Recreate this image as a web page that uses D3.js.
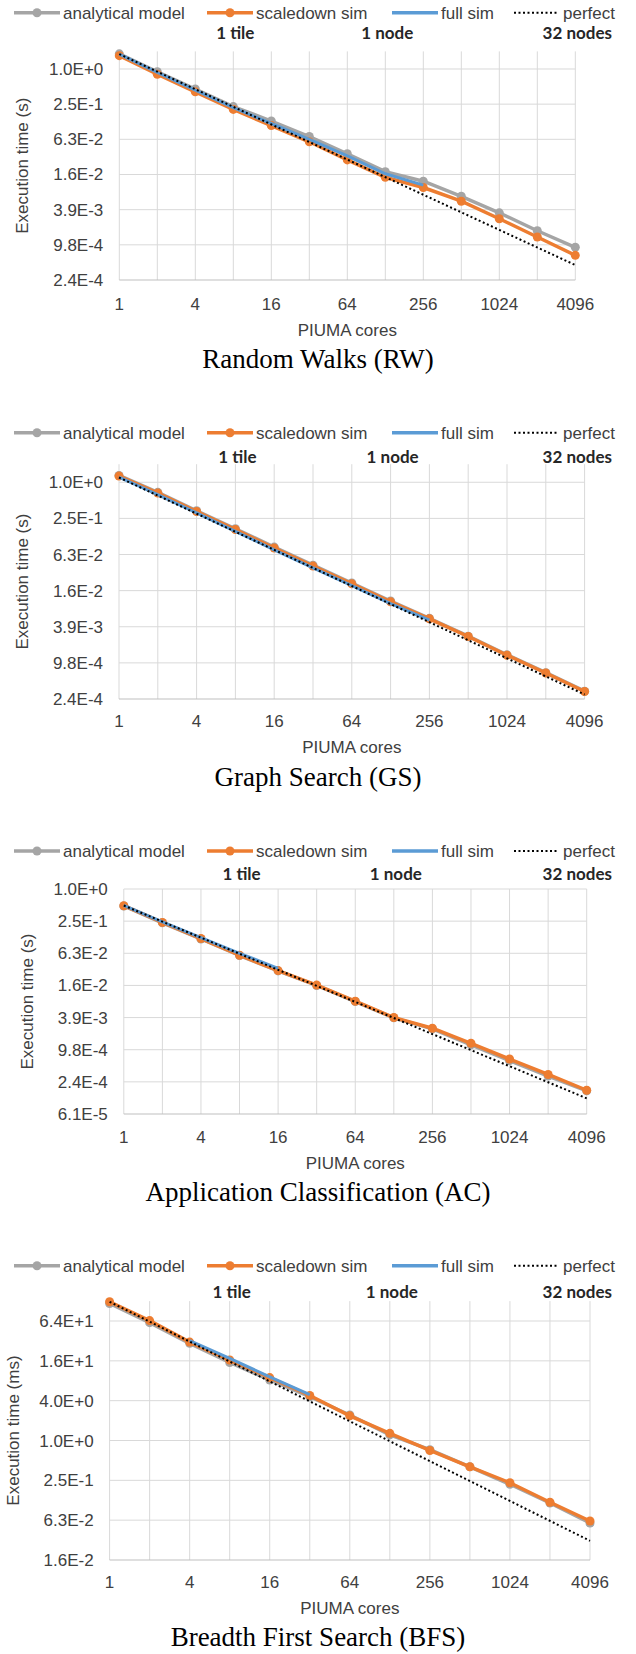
<!DOCTYPE html>
<html>
<head>
<meta charset="utf-8">
<script src="https://cdn.jsdelivr.net/npm/d3@7"></script>
<style>
  body { margin: 0; background: #fff; }
  svg { display: block; }
  .tick-label, .legend-label, .axis-title { font-family: "Liberation Sans", Arial, sans-serif; font-size: 17px; fill: #404040; }
  .legend-label { fill: #404040; }
  .anno { font-family: Lato, "Open Sans", sans-serif; font-weight: bold; font-size: 17px; fill: #262626; }
  .caption { font-family: "Liberation Serif", "Times New Roman", serif; font-size: 27px; fill: #000; }
</style>
</head>
<body>
<svg id="fig" width="636" height="1654"></svg>
<script>
// x axis: PIUMA cores
var cores = [1, 2, 4, 8, 16, 32, 64, 128, 256, 512, 1024, 2048, 4096];
var xTickCores = [1, 4, 16, 64, 256, 1024, 4096];

// Random Walks (RW), seconds
var rwAnalytical = [1.815, 0.895, 0.454, 0.227, 0.1285, 0.0698, 0.0354, 0.01746, 0.0120, 0.00662, 0.00345, 0.00170, 0.000887];
var rwScaledown  = [1.689, 0.812, 0.406, 0.203, 0.1073, 0.0567, 0.0278, 0.01398, 0.00936, 0.00545, 0.00273, 0.00133, 0.000646];
var rwFull       = [1.790, 0.871, 0.435, 0.218, 0.1166, 0.0625, 0.0326, 0.01607, 0.0103];
var rwPerfect    = [1.8, 0.00044];

// Graph Search (GS), seconds
var gsAnalytical = [1.30, 0.68, 0.335, 0.168, 0.083, 0.0415, 0.0209, 0.0105, 0.0054, 0.00272, 0.00133, 0.00067, 0.00033];
var gsScaledown  = [1.266, 0.660, 0.325, 0.1627, 0.0802, 0.0401, 0.0203, 0.01017, 0.00530, 0.00269, 0.00131, 0.000663, 0.000326];
var gsFull       = [1.214, 0.624, 0.308, 0.152, 0.0749, 0.0374, 0.0190, 0.00949, 0.00502];
var gsPerfect    = [1.2, 0.00029];

// Application Classification (AC), seconds
var acAnalytical = [0.48, 0.233, 0.116, 0.0568, 0.0292, 0.0156, 0.0078, 0.00386, 0.00240, 0.00120, 0.00061, 0.000313, 0.000166];
var acScaledown  = [0.486, 0.2365, 0.1182, 0.0575, 0.0296, 0.01584, 0.00792, 0.00391, 0.00247, 0.00129, 0.000653, 0.000336, 0.000170];
var acFull       = [0.493, 0.243, 0.1233, 0.0625, 0.0326];
var acPerfect    = [0.49, 0.00012];

// Breadth First Search (BFS), milliseconds
var bfsAnalytical = [117.7, 60.5, 29.4, 15.1, 8.22, 4.59, 2.43, 1.214, 0.727, 0.40, 0.218, 0.1135, 0.0567];
var bfsScaledown  = [125.3, 64.9, 30.7, 16.45, 8.94, 4.79, 2.36, 1.283, 0.707, 0.4006, 0.230, 0.1166, 0.0608];
var bfsFull       = [32.4, 17.4, 9.19, 4.92];       // 4 .. 32 cores
var bfsFullCores  = [4, 8, 16, 32];
var bfsPerfect    = [125, 0.0305];

// y ticks (log base 4)
var yTicksS = [1, 0.25, 0.0625, 0.015625, 0.00390625, 0.0009765625, 0.000244140625];
var yLabelsS = ["1.0E+0", "2.5E-1", "6.3E-2", "1.6E-2", "3.9E-3", "9.8E-4", "2.4E-4"];
var yTicksAC = [1, 0.25, 0.0625, 0.015625, 0.00390625, 0.0009765625, 0.000244140625, 0.00006103515625];
var yLabelsAC = ["1.0E+0", "2.5E-1", "6.3E-2", "1.6E-2", "3.9E-3", "9.8E-4", "2.4E-4", "6.1E-5"];
var yTicksMs = [64, 16, 4, 1, 0.25, 0.0625, 0.015625];
var yLabelsMs = ["6.4E+1", "1.6E+1", "4.0E+0", "1.0E+0", "2.5E-1", "6.3E-2", "1.6E-2"];

var seriesNames = ["analytical model", "scaledown sim", "full sim", "perfect"];
var seriesColors = ["#A5A5A5", "#ED7D31", "#5B9BD5", "#000000"];
var annotations = [{text: "1 tile", at: 8}, {text: "1 node", at: 128}, {text: "32 nodes", at: 4096}];

var charts = [
  {caption: "Random Walks (RW)", ytitle: "Execution time (s)", yticks: yTicksS, ylabels: yLabelsS,
   analytical: rwAnalytical, scaledown: rwScaledown, full: rwFull, fullCores: cores.slice(0, 9), perfect: rwPerfect,
   yMin: 0.000244140625, yMax: 2, left: 119.3, right: 575.3, top: 51.4, bottom: 280,
   legendY: 12.7, annoY: 33, xLabelY: 304, xTitleY: 330, captionY: 360},
  {caption: "Graph Search (GS)", ytitle: "Execution time (s)", yticks: yTicksS, ylabels: yLabelsS,
   analytical: gsAnalytical, scaledown: gsScaledown, full: gsFull, fullCores: cores.slice(0, 9), perfect: gsPerfect,
   yMin: 0.000244140625, yMax: 2, left: 119, right: 584.6, top: 464.2, bottom: 699,
   legendY: 432.7, annoY: 456.7, xLabelY: 720.7, xTitleY: 746.7, captionY: 778},
  {caption: "Application Classification (AC)", ytitle: "Execution time (s)", yticks: yTicksAC, ylabels: yLabelsAC,
   analytical: acAnalytical, scaledown: acScaledown, full: acFull, fullCores: cores.slice(0, 5), perfect: acPerfect,
   yMin: 0.00006103515625, yMax: 1, left: 123.8, right: 586.7, top: 889, bottom: 1114,
   legendY: 851, annoY: 874.3, xLabelY: 1136.7, xTitleY: 1162.7, captionY: 1192.7},
  {caption: "Breadth First Search (BFS)", ytitle: "Execution time (ms)", yticks: yTicksMs, ylabels: yLabelsMs,
   analytical: bfsAnalytical, scaledown: bfsScaledown, full: bfsFull, fullCores: bfsFullCores, perfect: bfsPerfect,
   yMin: 0.015625, yMax: 128, left: 109.6, right: 590, top: 1301.1, bottom: 1560,
   legendY: 1265.7, annoY: 1292.3, xLabelY: 1582, xTitleY: 1608, captionY: 1638}
];

var legendX = [14, 207, 392, 514];   // left end of each legend swatch

var svg = d3.select("#fig");

var draw_legend = function(g, cy) {
  seriesNames.forEach(function(name, i) {
    var x0 = legendX[i];
    var item = g.append("g");
    if (i == 3) {
      item.append("line").attr("x1", x0).attr("x2", x0 + 45).attr("y1", cy).attr("y2", cy)
        .attr("stroke", seriesColors[i]).attr("stroke-width", 2).attr("stroke-dasharray", "2,2.5");
    } else {
      item.append("line").attr("x1", x0).attr("x2", x0 + 46).attr("y1", cy).attr("y2", cy)
        .attr("stroke", seriesColors[i]).attr("stroke-width", 3.5);
      if (i < 2) {
        item.append("circle").attr("cx", x0 + 23).attr("cy", cy).attr("r", 4.5).attr("fill", seriesColors[i]);
      }
    }
    item.append("text").attr("class", "legend-label")
      .attr("x", x0 + 49).attr("y", cy + 6).text(name);
  });
};

var draw_chart = function(c) {
  var g = svg.append("g");
  var x = d3.scaleLog().base(2).domain([1, 4096]).range([c.left, c.right]);
  var y = d3.scaleLog().base(4).domain([c.yMin, c.yMax]).range([c.bottom, c.top]);

  // gridlines
  g.selectAll(".vgrid").data(cores).enter().append("line")
    .attr("x1", function(d) { return x(d); }).attr("x2", function(d) { return x(d); })
    .attr("y1", c.top).attr("y2", c.bottom)
    .attr("stroke", "#D9D9D9").attr("stroke-width", 1);
  g.selectAll(".hgrid").data(c.yticks).enter().append("line")
    .attr("x1", c.left).attr("x2", c.right)
    .attr("y1", function(d) { return y(d); }).attr("y2", function(d) { return y(d); })
    .attr("stroke", function(d) { return d == c.yMin ? "#BFBFBF" : "#D9D9D9"; })
    .attr("stroke-width", 1);

  // tick labels
  g.selectAll(".ylab").data(c.yticks).enter().append("text")
    .attr("class", "tick-label").attr("text-anchor", "end")
    .attr("x", c.left - 16).attr("y", function(d) { return y(d) + 6; })
    .text(function(d, i) { return c.ylabels[i]; });
  g.selectAll(".xlab").data(xTickCores).enter().append("text")
    .attr("class", "tick-label").attr("text-anchor", "middle")
    .attr("x", function(d) { return x(d); }).attr("y", c.xLabelY + 6)
    .text(function(d) { return d; });

  // axis titles
  g.append("text").attr("class", "axis-title").attr("text-anchor", "middle")
    .attr("x", (c.left + c.right) / 2).attr("y", c.xTitleY + 6).text("PIUMA cores");
  var ymid = (c.top + c.bottom) / 2;
  g.append("text").attr("class", "axis-title").attr("text-anchor", "middle")
    .attr("transform", "translate(" + (c.left - 91) + "," + ymid + ") rotate(-90)")
    .text(c.ytitle);

  // annotations
  g.selectAll(".anno").data(annotations).enter().append("text")
    .attr("class", "anno")
    .attr("text-anchor", function(d) { return d.at == 4096 ? "end" : "middle"; })
    .attr("x", function(d) { return d.at == 4096 ? 612 : x(d.at) + 2; })
    .attr("y", c.annoY + 6)
    .text(function(d) { return d.text; });

  var line = d3.line().x(function(d) { return x(d[0]); }).y(function(d) { return y(d[1]); });
  var pairs = function(xs, vs) { return vs.map(function(v, i) { return [xs[i], v]; }); };

  var an = pairs(cores, c.analytical);
  var sd = pairs(cores, c.scaledown);
  var fs = pairs(c.fullCores, c.full);
  var pf = [[1, c.perfect[0]], [4096, c.perfect[1]]];

  // analytical model
  g.append("path").attr("d", line(an)).attr("fill", "none")
    .attr("stroke", seriesColors[0]).attr("stroke-width", 3.5).attr("stroke-linejoin", "round");
  g.selectAll(".anpt").data(an).enter().append("circle")
    .attr("cx", function(d) { return x(d[0]); }).attr("cy", function(d) { return y(d[1]); })
    .attr("r", 4.5).attr("fill", seriesColors[0]);

  // scaledown sim
  g.append("path").attr("d", line(sd)).attr("fill", "none")
    .attr("stroke", seriesColors[1]).attr("stroke-width", 3.5).attr("stroke-linejoin", "round");
  g.selectAll(".sdpt").data(sd).enter().append("circle")
    .attr("cx", function(d) { return x(d[0]); }).attr("cy", function(d) { return y(d[1]); })
    .attr("r", 4.5).attr("fill", seriesColors[1]);

  // full sim
  g.append("path").attr("d", line(fs)).attr("fill", "none")
    .attr("stroke", seriesColors[2]).attr("stroke-width", 3).attr("stroke-linejoin", "round");

  // perfect scaling
  g.append("path").attr("d", line(pf)).attr("fill", "none")
    .attr("stroke", seriesColors[3]).attr("stroke-width", 2).attr("stroke-dasharray", "2,2.5");

  draw_legend(g, c.legendY);

  g.append("text").attr("class", "caption").attr("text-anchor", "middle")
    .attr("x", 318).attr("y", c.captionY + 8).text(c.caption);
};

charts.forEach(draw_chart);
</script>
</body>
</html>
